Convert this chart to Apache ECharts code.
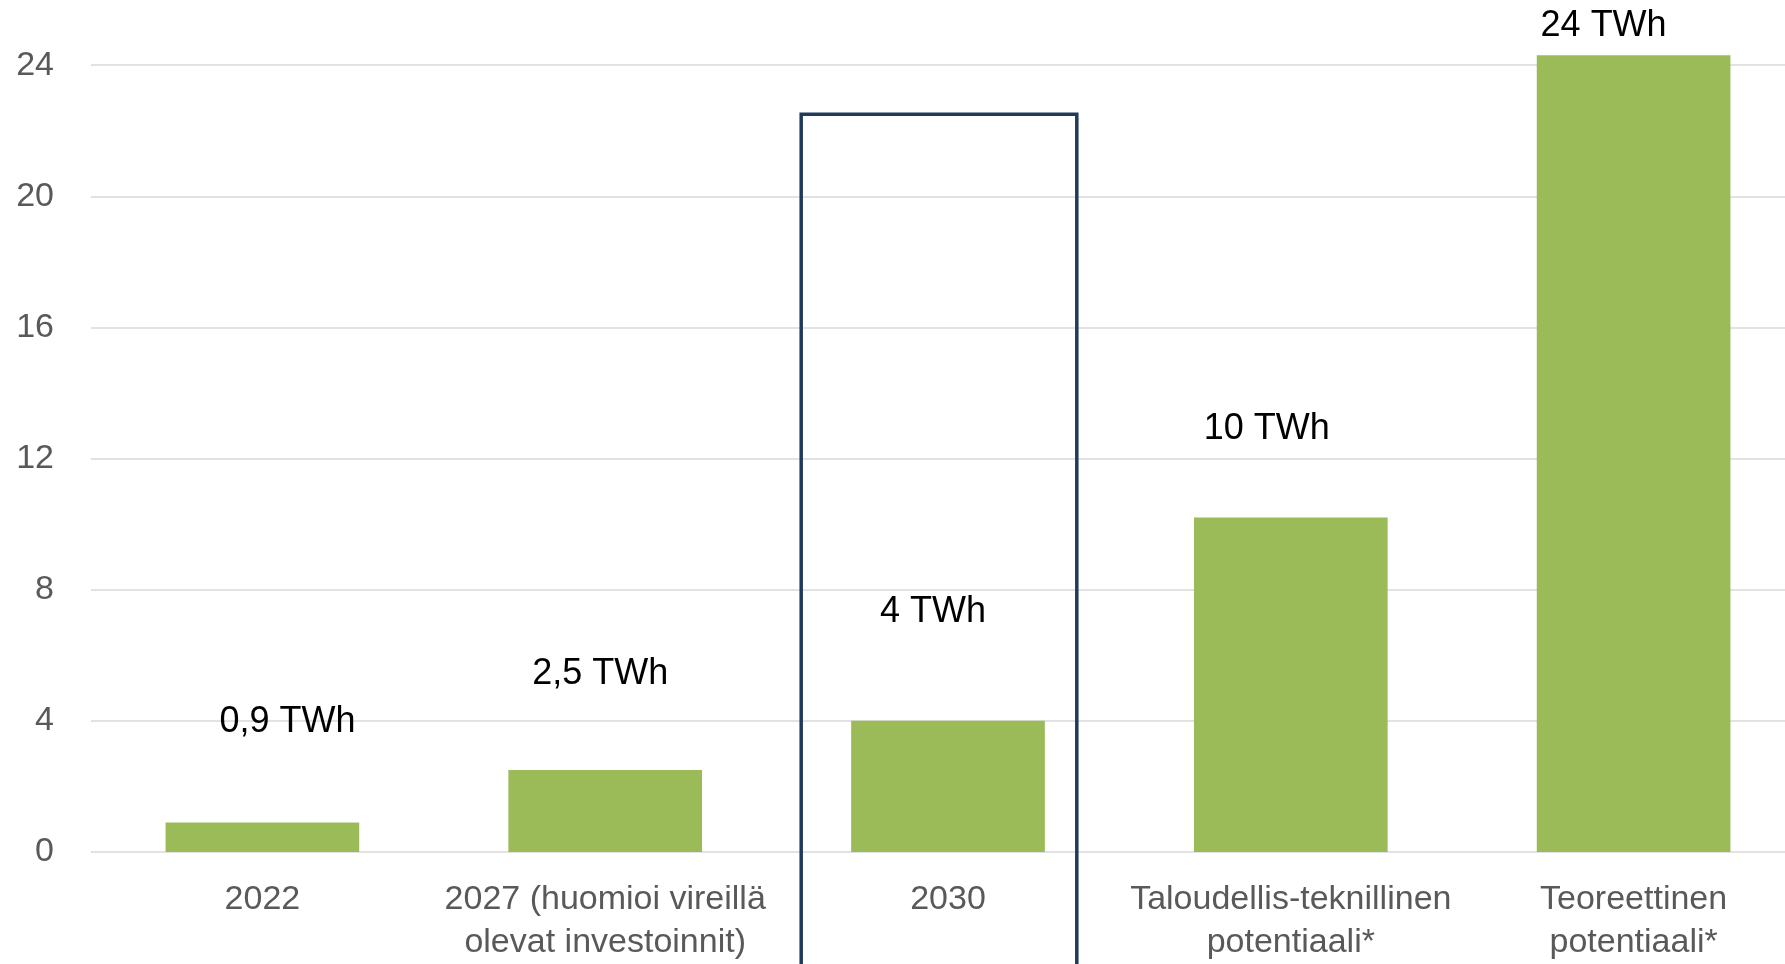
<!DOCTYPE html>
<html>

<head>
<meta charset="utf-8">
<title>ECharts</title>
<script src="https://cdn.jsdelivr.net/npm/echarts@6/dist/echarts.min.js"></script>
<style>
	html, body { margin: 0; padding: 0; background: #fff; overflow: hidden; }
	/* the original picture is cropped on top and right, so the chart runs past the window */
	#main { position: absolute; left: 0; top: -66px; width: 1805px; height: 1030px; }
</style>
</head>

<body>
	<div id="main"></div>
	<script type="text/javascript">
		// data
		var categories = ['2022', '2027 (huomioi vireillä\nolevat investoinnit)', '2030', 'Taloudellis-teknillinen\npotentiaali*', 'Teoreettinen\npotentiaali*'];
		var values = [0.9, 2.5, 4.0, 10.2, 24.3];
		var valueLabels = ['0,9 TWh', '2,5 TWh', '4 TWh', '10 TWh', '24 TWh'];
		var yTicks = [0, 4, 8, 12, 16, 20, 24];
		var boxTop = 22.5;   // top of the highlight frame around 2030

		// label nudges (px) - the text boxes in the original are hand placed
		var labelNudge = [[25, -80], [-5, -76], [-15, -89], [-24, -69], [-30, -9]];

		var font = '"Liberation Sans Narrow", "Liberation Sans", sans-serif';
		var myChart = echarts.init(document.getElementById('main'));

		var option = {
			animation: false,
			grid: { left: 91, right: 0, top: 0, bottom: 112 },
			xAxis: {
				type: 'category',
				data: categories,
				axisLine: { show: false },
				axisTick: { show: false },
				axisLabel: {
					color: '#595959', fontSize: 34, fontFamily: font,
					lineHeight: 43, margin: 26, interval: 0
				}
			},
			yAxis: {
				type: 'value',
				min: 0, max: 28, interval: 4,
				axisLine: { show: false },
				axisTick: { show: false },
				splitLine: { lineStyle: { color: '#d9d9d9', width: 1.5 } },
				axisLabel: {
					color: '#595959', fontSize: 34, fontFamily: font, margin: 37,
					formatter: function (v) { return yTicks.indexOf(v) >= 0 ? String(v) : ''; }
				}
			},
			series: [{
				type: 'bar',
				barCategoryGap: '43.5%',
				itemStyle: { color: '#9bbb59' },
				data: values.map(function (v, i) {
					return {
						value: v,
						label: { offset: labelNudge[i] }
					};
				}),
				label: {
					show: true, position: 'top', distance: 0,
					color: '#000', fontSize: 36, fontFamily: font, lineHeight: 40,
					formatter: function (p) { return valueLabels[p.dataIndex]; }
				}
			}]
		};
		myChart.setOption(option);

		// dark frame around the 2030 column
		var c = myChart.convertToPixel({ seriesIndex: 0 }, [2, boxTop]);
		var step = myChart.convertToPixel({ seriesIndex: 0 }, [3, 0])[0] - c[0];
		var w = step * 0.804;
		myChart.setOption({
			graphic: [{
				type: 'rect',
				shape: { x: c[0] - 9 - w / 2, y: c[1], width: w, height: 1100 },
				style: { fill: 'none', stroke: '#1f3a5a', lineWidth: 3.5 },
				z: 10
			}]
		});
	</script>
</body>

</html>
